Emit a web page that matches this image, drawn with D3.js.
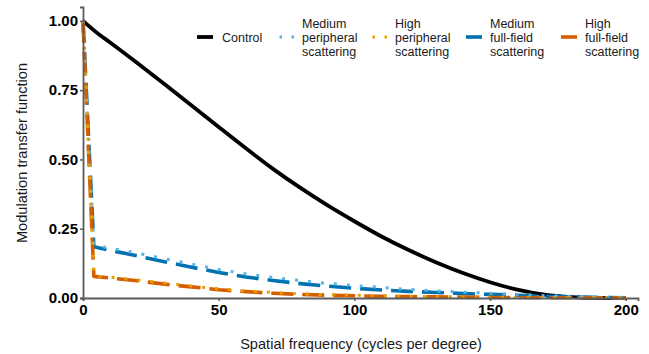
<!DOCTYPE html>
<html>
<head>
<meta charset="utf-8">
<script src="https://cdn.jsdelivr.net/npm/d3@7"></script>
<style>
  body { margin: 0; background: #fff; }
  svg { display: block; font-family: "Liberation Sans", Arial, sans-serif; }
</style>
</head>
<body>
<div id="chart"></div>
<script>
// Data
var controlFreq = [0, 5, 10, 20, 30, 40, 50, 60, 70, 80, 90, 100, 110, 120, 130, 140, 150, 160, 170, 180, 190, 200];
var controlMtf  = [1.0, 0.958, 0.922, 0.848, 0.772, 0.695, 0.617, 0.540, 0.466, 0.398, 0.335, 0.277, 0.222, 0.173, 0.129, 0.090, 0.057, 0.030, 0.012, 0.003, 0.0, 0.0];

var scatterFreq = [0, 4, 10, 20, 30, 40, 50, 60, 70, 80, 90, 100, 110, 120, 130, 140, 150, 160, 170, 180, 190, 200];
var medPeriphMtf = [1.0, 0.19, 0.18, 0.162, 0.142, 0.122, 0.103, 0.087, 0.074, 0.063, 0.053, 0.045, 0.038, 0.031, 0.026, 0.021, 0.017, 0.013, 0.009, 0.006, 0.003, 0.001];
var highPeriphMtf = [1.0, 0.08, 0.075, 0.065, 0.054, 0.043, 0.033, 0.026, 0.020, 0.015, 0.012, 0.010, 0.008, 0.006, 0.005, 0.004, 0.003, 0.002, 0.002, 0.001, 0.001, 0.0];
var medFullMtf = [1.0, 0.185, 0.172, 0.152, 0.131, 0.111, 0.092, 0.076, 0.063, 0.052, 0.043, 0.035, 0.029, 0.024, 0.020, 0.016, 0.013, 0.010, 0.006, 0.004, 0.002, 0.001];
var highFullMtf = [1.0, 0.078, 0.072, 0.062, 0.050, 0.040, 0.030, 0.023, 0.017, 0.013, 0.010, 0.008, 0.006, 0.005, 0.004, 0.003, 0.002, 0.002, 0.001, 0.001, 0.001, 0.0];

var xTicks = [0, 50, 100, 150, 200];
var yTicks = [0, 0.25, 0.5, 0.75, 1.0];

var W = 649, H = 354;
var m = { left: 83, right: 11, top: 7, bottom: 56 };

var svg = d3.select("#chart").append("svg").attr("width", W).attr("height", H);

var x = d3.scaleLinear().domain([0, 204.5]).range([m.left, W - m.right]);
var y = d3.scaleLinear().domain([0, 1.05]).range([H - m.bottom, m.top]);

function pairs(fs, vs) {
  return fs.map(function (f, i) { return [f, vs[i]]; });
}

var series = [
  { name: ["Control"], data: pairs(controlFreq, controlMtf), color: "#000000", width: 3.8, dash: null },
  { name: ["Medium", "peripheral", "scattering"], data: pairs(scatterFreq, medPeriphMtf), color: "#56B4E9", width: 3, dash: "3,10" },
  { name: ["High", "peripheral", "scattering"], data: pairs(scatterFreq, highPeriphMtf), color: "#E69F00", width: 3, dash: "3,10" },
  { name: ["Medium", "full-field", "scattering"], data: pairs(scatterFreq, medFullMtf), color: "#0072B2", width: 3.6, dash: "22,9" },
  { name: ["High", "full-field", "scattering"], data: pairs(scatterFreq, highFullMtf), color: "#D55E00", width: 3.6, dash: "22,9" }
];

var line = d3.line()
  .x(function (d) { return x(d[0]); })
  .y(function (d) { return y(d[1]); });

// draw order: control, dashed full-field, then dotted peripheral on top
[0, 3, 4, 1, 2].forEach(function (i) {
  var s = series[i];
  svg.append("path")
    .datum(s.data)
    .attr("fill", "none")
    .attr("stroke", s.color)
    .attr("stroke-width", s.width)
    .attr("stroke-dasharray", s.dash)
    .attr("stroke-linecap", "butt")
    .attr("stroke-linejoin", "round")
    .attr("d", line.curve(i === 0 ? d3.curveMonotoneX : d3.curveLinear));
});

// Axes
var axisColor = "#5b5b5b";
var xAxis = svg.append("g")
  .attr("transform", "translate(0," + y(0) + ")")
  .call(d3.axisBottom(x).tickValues(xTicks).tickSize(3).tickPadding(3).tickFormat(d3.format("d")));
var yAxis = svg.append("g")
  .attr("transform", "translate(" + x(0) + ",0)")
  .call(d3.axisLeft(y).tickValues(yTicks).tickSize(3).tickPadding(2).tickFormat(d3.format(".2f")));

[xAxis, yAxis].forEach(function (a) {
  a.select(".domain").attr("stroke", axisColor).attr("stroke-width", 1.8);
  a.selectAll(".tick line").attr("stroke", axisColor).attr("stroke-width", 1.5);
  a.selectAll(".tick text")
    .attr("fill", "#000")
    .attr("font-size", 15)
    .attr("font-weight", "bold")
    .attr("font-family", "'Liberation Sans', Arial, sans-serif");
});

// Axis titles
svg.append("text")
  .attr("x", 361).attr("y", 349)
  .attr("text-anchor", "middle")
  .attr("font-size", 14.6)
  .attr("fill", "#1a1a1a")
  .text("Spatial frequency (cycles per degree)");

svg.append("text")
  .attr("transform", "translate(27," + 153 + ") rotate(-90)")
  .attr("text-anchor", "middle")
  .attr("font-size", 14.6)
  .attr("fill", "#1a1a1a")
  .text("Modulation transfer function");

// Legend
var legendX = [197, 278, 371, 466, 561];
var legendY = 37;
series.forEach(function (s, i) {
  var g = svg.append("g").attr("transform", "translate(" + legendX[i] + "," + legendY + ")");
  g.append("line")
    .attr("x1", 0).attr("x2", 16)
    .attr("y1", 0).attr("y2", 0)
    .attr("stroke", s.color)
    .attr("stroke-width", s.width)
    .attr("stroke-dasharray", s.dash === "3,10" ? "2.5,9.5" : null)
    .attr("stroke-dashoffset", s.dash === "3,10" ? -1.5 : 0);
  var n = s.name.length;
  s.name.forEach(function (t, j) {
    g.append("text")
      .attr("x", i === 0 ? 25 : 24)
      .attr("y", (j - (n - 1) / 2) * 14 + 4.5)
      .attr("font-size", 12.5)
      .attr("fill", "#1a1a1a")
      .text(t);
  });
});
</script>
</body>
</html>
